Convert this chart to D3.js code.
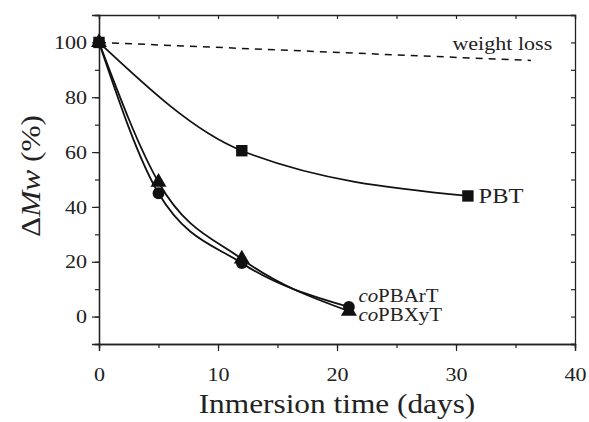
<!DOCTYPE html>
<html>
<head>
<meta charset="utf-8">
<script src="https://cdn.jsdelivr.net/npm/d3@7"></script>
<style>
  body { margin: 0; background: #fff; }
  svg { display: block; }
  svg text { font-family: "Liberation Serif", "Times New Roman", serif !important; }
</style>
</head>
<body>
<div id="chart"></div>
<script>
// Data
const pbtDays = [0, 12, 31];
const pbtMw = [100, 60.5, 44];
const arDays = [0, 5, 12, 21];
const arMw = [100, 45, 19.5, 3.5];
const xyDays = [0, 5, 12, 21];
const xyMw = [100, 49, 21, 2];
const lossDays = [0, 36.3];
const lossVal = [100, 93.4];
const xTicks = [0, 10, 20, 30, 40];
const yTicks = [0, 20, 40, 60, 80, 100];

const width = 589, height = 422;
const margin = { top: 15, right: 14, bottom: 78, left: 99 };
const w = width - margin.left - margin.right;
const h = height - margin.top - margin.bottom;

// the original figure's lettering is a bit wider than the font
const stretch = 1.16;

const svg = d3.select('#chart').append('svg')
    .attr('width', width)
    .attr('height', height);

const g = svg.append('g')
    .attr('transform', `translate(${margin.left}, ${margin.top})`);

const x = d3.scaleLinear().domain([0, 40]).range([0, w]);
const y = d3.scaleLinear().domain([-10, 110]).range([h, 0]);

const zip = (xs, ys) => xs.map((d, i) => [d, ys[i]]);

function widen(sel) {
    sel.each(function () {
        const len = this.getComputedTextLength();
        d3.select(this)
            .attr('textLength', len * stretch)
            .attr('lengthAdjust', 'spacingAndGlyphs');
    });
}

// Axes: bottom / left with outward ticks, top / right with inward ticks
const minorX = d3.range(0, 41, 5);
const minorY = d3.range(-10, 111, 10);

function styleAxis(sel) {
    sel.attr('font-family', null);
    sel.select('.domain').attr('stroke', '#222').attr('stroke-width', 1.3);
    sel.selectAll('.tick line').attr('stroke', '#222').attr('stroke-width', 1.2);
    sel.selectAll('.tick text')
        .attr('fill', '#222')
        .attr('font-size', 19);
}

// minor ticks
g.append('g').attr('transform', `translate(0, ${h})`)
    .call(d3.axisBottom(x).tickValues(minorX).tickSize(4).tickFormat(''))
    .call(styleAxis);
g.append('g')
    .call(d3.axisLeft(y).tickValues(minorY).tickSize(4).tickFormat(''))
    .call(styleAxis);
g.append('g')
    .call(d3.axisTop(x).tickValues(minorX).tickSize(-4).tickFormat(''))
    .call(styleAxis);
g.append('g').attr('transform', `translate(${w}, 0)`)
    .call(d3.axisRight(y).tickValues(minorY).tickSize(-4).tickFormat(''))
    .call(styleAxis);

// major ticks with labels
g.append('g').attr('transform', `translate(0, ${h})`)
    .call(d3.axisBottom(x).tickValues(xTicks).tickSize(7).tickPadding(17))
    .call(styleAxis)
    .call(a => a.selectAll('.tick text').call(widen));
g.append('g')
    .call(d3.axisLeft(y).tickValues(yTicks).tickSize(7).tickPadding(5))
    .call(styleAxis)
    .call(a => a.selectAll('.tick text').call(widen));

// weight loss dashed line
g.append('path')
    .datum(zip(lossDays, lossVal))
    .attr('fill', 'none')
    .attr('stroke', '#111')
    .attr('stroke-width', 1.5)
    .attr('stroke-dasharray', '7,6')
    .attr('d', d3.line().x(d => x(d[0])).y(d => y(d[1])));

const line = d3.line()
    .x(d => x(d[0]))
    .y(d => y(d[1]))
    .curve(d3.curveMonotoneX);

const series = [
    { pts: zip(pbtDays, pbtMw), symbol: d3.symbolSquare, size: 130 },
    { pts: zip(xyDays, xyMw), symbol: d3.symbolTriangle, size: 110 },
    { pts: zip(arDays, arMw), symbol: d3.symbolCircle, size: 110 }
];

series.forEach(s => {
    g.append('path')
        .datum(s.pts)
        .attr('fill', 'none')
        .attr('stroke', '#111')
        .attr('stroke-width', 1.8)
        .attr('d', line);
});

series.forEach(s => {
    g.append('g').selectAll('path')
        .data(s.pts)
        .join('path')
        .attr('transform', d => `translate(${x(d[0])}, ${y(d[1])})`)
        .attr('d', d3.symbol().type(s.symbol).size(s.size))
        .attr('fill', '#111');
});

// labels inside the plot
g.append('text')
    .attr('x', x(29.7)).attr('y', y(97.3))
    .attr('font-size', 19).attr('fill', '#222')
    .text('weight loss')
    .call(widen);

g.append('text')
    .attr('x', x(31.9)).attr('y', y(44)).attr('dy', '0.34em')
    .attr('font-size', 21).attr('fill', '#222')
    .text('PBT')
    .call(widen);

const lab1 = g.append('text')
    .attr('x', x(21.8)).attr('y', y(5.5))
    .attr('font-size', 18).attr('fill', '#222');
lab1.append('tspan').attr('font-style', 'italic').text('co');
lab1.append('tspan').text('PBArT');
lab1.call(widen);

const lab2 = g.append('text')
    .attr('x', x(21.8)).attr('y', y(-1.5))
    .attr('font-size', 18).attr('fill', '#222');
lab2.append('tspan').attr('font-style', 'italic').text('co');
lab2.append('tspan').text('PBXyT');
lab2.call(widen);

// axis titles
svg.append('text')
    .attr('x', margin.left + w / 2).attr('y', 413)
    .attr('text-anchor', 'middle')
    .attr('font-size', 27).attr('fill', '#222')
    .text('Inmersion time (days)')
    .call(widen);

const yt = svg.append('text')
    .attr('transform', 'translate(40, 176) rotate(-90)')
    .attr('text-anchor', 'middle')
    .attr('font-size', 27).attr('fill', '#222');
yt.append('tspan').text('Δ');
yt.append('tspan').attr('font-style', 'italic').text('Mw');
yt.append('tspan').text(' (%)');
yt.call(widen);
</script>
</body>
</html>
